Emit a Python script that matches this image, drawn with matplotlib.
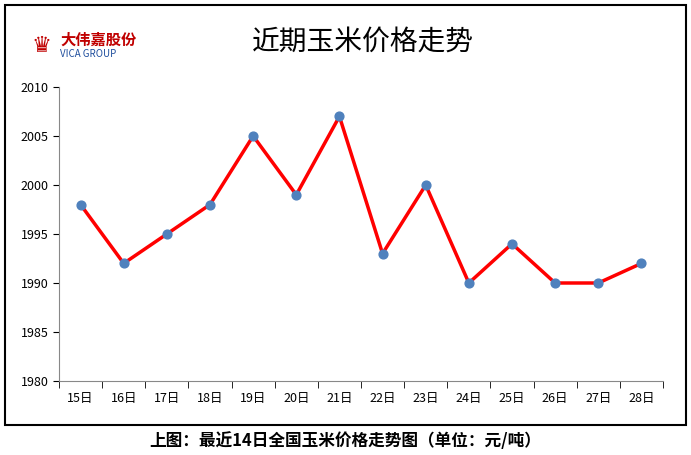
import matplotlib
matplotlib.use("Agg")
import matplotlib.pyplot as plt
from matplotlib.patches import Rectangle
import numpy as np

categories = ["15日","16日","17日","18日","19日","20日","21日","22日","23日","24日","25日","26日","27日","28日"]
prices = [1998,1992,1995,1998,2005,1999,2007,1993,2000,1990,1994,1990,1990,1992]
yticks = [1980,1985,1990,1995,2000,2005,2010]

plt.rcParams["font.family"] = ["Noto Sans CJK SC", "DejaVu Sans"]
fig = plt.figure(figsize=(6.91,4.55), dpi=100)
fig.patches.append(Rectangle((5/691, 1-425/455), 681/691, 420/455, transform=fig.transFigure,
                             fill=False, edgecolor="black", linewidth=1.5))
ax = fig.add_axes([59/691, 1-381/455, 604/691, 294/455])
x = np.arange(len(categories))
ax.plot(x, prices, color="#FF0000", linewidth=2.5, zorder=2)
ax.scatter(x, prices, s=40, color="#4F81BD", zorder=3)
ax.set_xlim(-0.5, len(categories)-0.5)
ax.set_ylim(1980, 2010)
ax.set_yticks(yticks)
ax.set_yticklabels([str(v) for v in yticks], fontsize=9)
ax.set_xticks(x)
ax.set_xticklabels(categories, fontsize=9)
ax.set_xticks(np.arange(-0.5, len(categories)), minor=True)
ax.tick_params(axis="x", which="major", length=0, pad=8)
ax.tick_params(axis="x", which="minor", length=5, direction="out")
ax.tick_params(axis="y", length=4, direction="out")
ax.spines["top"].set_visible(False)
ax.spines["right"].set_visible(False)
ax.spines["left"].set_color("#888888")
ax.spines["bottom"].set_color("#888888")

fig.text(0.525, 1-42/455, "近期玉米价格走势", ha="center", va="center", fontsize=20)
fig.text(0.5, 1-441/455, "上图：最近14日全国玉米价格走势图（单位：元/吨）", ha="center", va="center", fontsize=12, fontweight="bold")
fig.text(60/691, 1-40/455, "大伟嘉股份", ha="left", va="center", fontsize=11, color="#C00000", fontweight="bold")
fig.text(60/691, 1-54/455, "VICA GROUP", ha="left", va="center", fontsize=7, color="#1F4E9D")
fig.text(42/691, 1-45/455, "♛", ha="center", va="center", fontsize=16, color="#C00000")
fig.savefig("out.png", dpi=100)
